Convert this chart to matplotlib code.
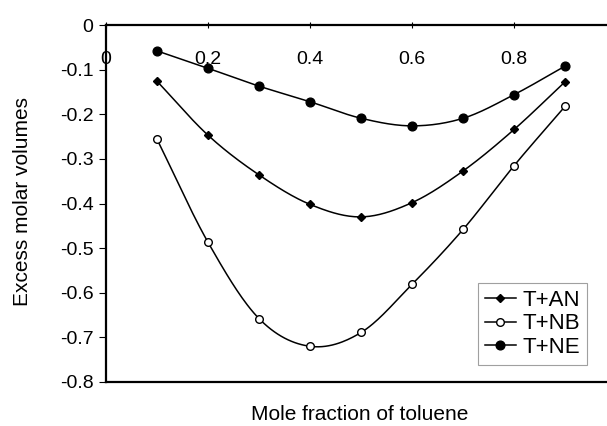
import numpy as np
import matplotlib
matplotlib.use("Agg")
import matplotlib.pyplot as plt

plt.rcParams['font.family'] = ['Liberation Sans', 'DejaVu Sans']
plt.rcParams['axes.unicode_minus'] = False

x = [0.1, 0.2, 0.3, 0.4, 0.5, 0.6, 0.7, 0.8, 0.9]
t_an = [-0.126, -0.247, -0.336, -0.402, -0.430, -0.398, -0.327, -0.234, -0.127]
t_nb = [-0.256, -0.487, -0.658, -0.720, -0.689, -0.581, -0.458, -0.315, -0.182]
t_ne = [-0.058, -0.097, -0.137, -0.172, -0.209, -0.226, -0.209, -0.156, -0.092]
xticks = [0, 0.2, 0.4, 0.6, 0.8]
xtick_labels = ["0", "0.2", "0.4", "0.6", "0.8"]
yticks = [0, -0.1, -0.2, -0.3, -0.4, -0.5, -0.6, -0.7, -0.8]
ytick_labels = ["0", "-0.1", "-0.2", "-0.3", "-0.4", "-0.5", "-0.6", "-0.7", "-0.8"]


def smooth(xs, ys, n=30):
    xs = np.asarray(xs, float)
    ys = np.asarray(ys, float)
    px = np.concatenate([[2 * xs[0] - xs[1]], xs, [2 * xs[-1] - xs[-2]]])
    py = np.concatenate([[2 * ys[0] - ys[1]], ys, [2 * ys[-1] - ys[-2]]])
    ox, oy = [], []
    for i in range(1, len(px) - 2):
        t = np.linspace(0, 1, n, endpoint=(i == len(px) - 3))
        for arr, out in ((px, ox), (py, oy)):
            p0, p1, p2, p3 = arr[i - 1], arr[i], arr[i + 1], arr[i + 2]
            out.extend(0.5 * ((2 * p1) + (-p0 + p2) * t
                              + (2 * p0 - 5 * p1 + 4 * p2 - p3) * t ** 2
                              + (-p0 + 3 * p1 - 3 * p2 + p3) * t ** 3))
    return np.array(ox), np.array(oy)


fig = plt.figure(figsize=(6.07, 4.26), dpi=100)
ax = fig.add_axes([106 / 607, 1 - 382 / 426, 1 - 106 / 607, (382 - 25) / 426])

series = [
    ("T+AN", t_an, dict(marker="D", markersize=4.5, markerfacecolor="black", markeredgecolor="black")),
    ("T+NB", t_nb, dict(marker="o", markersize=5.5, markerfacecolor="white", markeredgecolor="black", markeredgewidth=1.0)),
    ("T+NE", t_ne, dict(marker="o", markersize=6.3, markerfacecolor="black", markeredgecolor="black")),
]
handles = []
for name, ys, mk in series:
    sx, sy = smooth(x, ys)
    ax.plot(sx, sy, color="black", lw=1.1)
    ax.plot(x, ys, linestyle="none", zorder=3, **mk)
    h, = ax.plot([], [], color="black", lw=1.1, **mk)
    h.set_label(name)
    handles.append(h)

ax.set_xlim(0, 0.982)
ax.set_ylim(-0.8, 0)
ax.spines['right'].set_visible(False)
for s in ['top', 'bottom', 'left']:
    ax.spines[s].set_linewidth(1.6)

ax.xaxis.tick_top()
ax.set_xticks(xticks)
ax.set_xticklabels(xtick_labels)
ax.tick_params(axis='x', direction='inout', length=4, pad=-33, labelsize=14)
ax.set_yticks(yticks)
ax.set_yticklabels(ytick_labels)
ax.tick_params(axis='y', direction='out', length=5, labelsize=14, pad=4)

fig.text(23 / 607, 1 - 202 / 426, "Excess molar volumes", rotation=90,
         ha="center", va="center", fontsize=15)
fig.text(360 / 607, 1 - 414 / 426, "Mole fraction of toluene",
         ha="center", va="center", fontsize=15)

leg = ax.legend(handles=handles, loc="upper left",
                bbox_to_anchor=((478 - 106) / 501, 1 - (283 - 25) / 357),
                frameon=True, fancybox=False, fontsize=16, handlelength=1.4,
                handletextpad=0.3, borderpad=0.3, labelspacing=0.12, borderaxespad=0)
leg.get_frame().set_edgecolor("#888888")
leg.get_frame().set_linewidth(0.8)

fig.savefig("out.png", dpi=100)
